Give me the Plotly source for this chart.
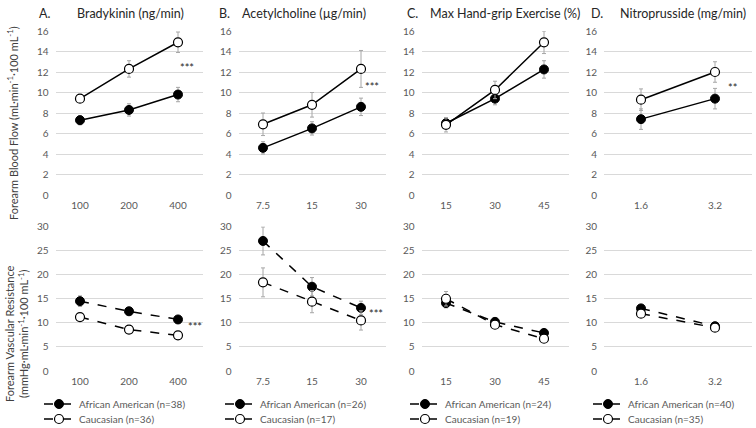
import plotly.graph_objects as go

W, H = 756, 428
FONT = "Lato"

# ---- data ----
cats_A = ["100", "200", "400"]
cats_B = ["7.5", "15", "30"]
cats_C = ["15", "30", "45"]
cats_D = ["1.6", "3.2"]

fbf_aa_A = [7.3, 8.3, 9.8];    fbf_aa_A_err = [0.45, 0.6, 0.7]
fbf_ca_A = [9.4, 12.3, 14.9];  fbf_ca_A_err = [0.3, 0.8, 1.0]
fbf_aa_B = [4.6, 6.5, 8.6];    fbf_aa_B_err = [0.6, 0.65, 0.85]
fbf_ca_B = [6.9, 8.8, 12.3];   fbf_ca_B_err = [1.1, 1.2, 1.8]
fbf_aa_C = [7.0, 9.4, 12.25];  fbf_aa_C_err = [0.5, 0.6, 0.85]
fbf_ca_C = [6.85, 10.25, 14.9]; fbf_ca_C_err = [0.7, 0.85, 1.1]
fbf_aa_D = [7.4, 9.4];         fbf_aa_D_err = [1.0, 1.0]
fbf_ca_D = [9.3, 12.0];        fbf_ca_D_err = [1.05, 1.0]

fvr_aa_A = [14.5, 12.4, 10.7]; fvr_aa_A_err = [1.1, 0.8, 0.6]
fvr_ca_A = [11.2, 8.6, 7.4];   fvr_ca_A_err = [0.6, 0.4, 0.4]
fvr_aa_B = [27.0, 17.5, 13.1]; fvr_aa_B_err = [2.9, 1.9, 1.4]
fvr_ca_B = [18.4, 14.4, 10.5]; fvr_ca_B_err = [3.0, 2.3, 2.0]
fvr_aa_C = [14.1, 10.2, 7.9];  fvr_aa_C_err = [1.0, 0.6, 0.6]
fvr_ca_C = [15.0, 9.6, 6.7];   fvr_ca_C_err = [1.5, 0.6, 0.5]
fvr_aa_D = [13.0, 9.3];        fvr_aa_D_err = [0.8, 0.8]
fvr_ca_D = [11.9, 9.0];        fvr_ca_D_err = [0.8, 0.8]

n_aa = [38, 26, 24, 40]
n_ca = [36, 17, 19, 35]

panel_letters = ["A.", "B.", "C.", "D."]
panel_titles = ["Bradykinin (ng/min)", "Acetylcholine (\u00b5g/min)",
                "Max Hand-grip Exercise (%)", "Nitroprusside (mg/min)"]

top_ticks = [0, 2, 4, 6, 8, 10, 12, 14, 16]
bot_ticks = [0, 5, 10, 15, 20, 25, 30]

# ---- layout geometry (pixels) ----
xdom_px = [(55.5, 202.5), (238.5, 385.5), (421.5, 568.5), (604, 752)]
top_px = (31, 195)
bot_px = (226.5, 371)

def px2x(p): return p / W
def px2y(p): return 1 - p / H

cats = [cats_A, cats_B, cats_C, cats_D]
top_data = [(fbf_aa_A, fbf_aa_A_err, fbf_ca_A, fbf_ca_A_err),
            (fbf_aa_B, fbf_aa_B_err, fbf_ca_B, fbf_ca_B_err),
            (fbf_aa_C, fbf_aa_C_err, fbf_ca_C, fbf_ca_C_err),
            (fbf_aa_D, fbf_aa_D_err, fbf_ca_D, fbf_ca_D_err)]
bot_data = [(fvr_aa_A, fvr_aa_A_err, fvr_ca_A, fvr_ca_A_err),
            (fvr_aa_B, fvr_aa_B_err, fvr_ca_B, fvr_ca_B_err),
            (fvr_aa_C, fvr_aa_C_err, fvr_ca_C, fvr_ca_C_err),
            (fvr_aa_D, fvr_aa_D_err, fvr_ca_D, fvr_ca_D_err)]

fig = go.Figure()
ERR_COL = "#a6a6a6"
TICK_COL = "#595959"
GRID_COL = "#d9d9d9"

def add_pair(i, row, data, dashed):
    k = i + 1 + 4 * row
    xa = "x" if k == 1 else f"x{k}"
    ya = "y" if k == 1 else f"y{k}"
    aa, aa_e, ca, ca_e = data
    dash = "dash" if dashed else "solid"
    lg1 = "legend" if i == 0 else f"legend{2*i+1}"
    lg2 = f"legend{2*i+2}"
    fig.add_trace(go.Scatter(
        x=cats[i], y=aa, xaxis=xa, yaxis=ya, mode="lines+markers",
        line=dict(color="black", width=1.5, dash=dash),
        marker=dict(symbol="circle", size=9, color="black", line=dict(color="black", width=1)),
        error_y=dict(type="data", array=aa_e, color=ERR_COL, thickness=1, width=2),
        name=f"African American (n={n_aa[i]})", showlegend=dashed,
        legend=lg1))
    fig.add_trace(go.Scatter(
        x=cats[i], y=ca, xaxis=xa, yaxis=ya, mode="lines+markers",
        line=dict(color="black", width=1.5, dash=dash),
        marker=dict(symbol="circle", size=9, color="white", line=dict(color="black", width=1.2)),
        error_y=dict(type="data", array=ca_e, color=ERR_COL, thickness=1, width=2),
        name=f"Caucasian (n={n_ca[i]})", showlegend=dashed,
        legend=lg2))

for i in range(4):
    add_pair(i, 0, top_data[i], False)
for i in range(4):
    add_pair(i, 1, bot_data[i], True)

layout = dict(width=W, height=H,
              margin=dict(l=0, r=0, t=0, b=0, autoexpand=False),
              paper_bgcolor="white", plot_bgcolor="white",
              font=dict(family=FONT, color=TICK_COL, size=10))

for row in range(2):
    for i in range(4):
        k = i + 1 + 4 * row
        xn = "xaxis" if k == 1 else f"xaxis{k}"
        yn = "yaxis" if k == 1 else f"yaxis{k}"
        x0, x1 = xdom_px[i]
        ypx = top_px if row == 0 else bot_px
        ticks = top_ticks if row == 0 else bot_ticks
        layout[xn] = dict(domain=[px2x(x0), px2x(x1)], type="category",
                          range=[-0.5, len(cats[i]) - 0.5], showgrid=False,
                          showline=False, zeroline=False, ticks="",
                          anchor="y" if k == 1 else f"y{k}",
                          ticklabelstandoff=3,
                          tickfont=dict(size=10, color=TICK_COL, family=FONT),
                          fixedrange=True)
        layout[yn] = dict(domain=[px2y(ypx[1]), px2y(ypx[0])],
                          range=[ticks[0], ticks[-1]], tickvals=ticks,
                          showgrid=True, gridcolor=GRID_COL, gridwidth=1,
                          zeroline=False, showline=False, ticks="",
                          anchor="x" if k == 1 else f"x{k}",
                          ticklabelstandoff=6,
                          tickfont=dict(size=10, color=TICK_COL, family=FONT),
                          fixedrange=True)

# legends (one entry each)
leg_text_x = [88, 269, 454, 637]
leg_y = [404, 419]
for i in range(4):
    for j in range(2):
        idx = 2 * i + j + 1
        name = "legend" if idx == 1 else f"legend{idx}"
        layout[name] = dict(x=px2x(leg_text_x[i] - 49), y=px2y(leg_y[j]),
                            xanchor="left", yanchor="middle",
                            bgcolor="rgba(0,0,0,0)", borderwidth=0,
                            itemwidth=30,
                            font=dict(family=FONT, size=10, color=TICK_COL))

fig.update_layout(**layout)

ann = []
letter_x = [44, 224, 412, 597]
title_x = [130.5, 304, 505, 683]
for i in range(4):
    ann.append(dict(text=panel_letters[i], x=px2x(letter_x[i]), y=px2y(13),
                    xref="paper", yref="paper", showarrow=False,
                    xanchor="center", yanchor="middle",
                    font=dict(family=FONT, size=12.5, color="#262626")))
    ann.append(dict(text=panel_titles[i], x=px2x(title_x[i]), y=px2y(13),
                    xref="paper", yref="paper", showarrow=False,
                    xanchor="center", yanchor="middle",
                    font=dict(family=FONT, size=12.5, color="#262626")))

# y axis titles
ann.append(dict(text="Forearm Blood Flow (mL\u00b7min<sup>-1</sup>\u00b7100 mL<sup>-1</sup>)",
                x=px2x(12), y=px2y(123), xref="paper", yref="paper",
                showarrow=False, textangle=-90, xanchor="center", yanchor="middle",
                font=dict(family=FONT, size=11, color="#404040")))
ann.append(dict(text="Forearm Vascular Resistance<br>(mmHg\u00b7mL\u00b7min<sup>-1</sup>\u00b7100 mL<sup>-1</sup>)",
                x=px2x(16), y=px2y(334), xref="paper", yref="paper",
                showarrow=False, textangle=-90, xanchor="center", yanchor="middle",
                font=dict(family=FONT, size=11, color="#404040")))

# significance stars
stars = [("x domain", "y", 0.895, 12.4, "***"),
         ("x2 domain", "y2", 0.908, 10.6, "***"),
         ("x4 domain", "y4", 0.865, 10.5, "**"),
         ("x5 domain", "y5", 0.949, 9.3, "***"),
         ("x6 domain", "y6", 0.935, 12.0, "***")]
for xr, yr, xv, yv, t in stars:
    ann.append(dict(text=t, x=xv, y=yv, xref=xr, yref=yr, showarrow=False,
                    xanchor="center", yanchor="middle",
                    font=dict(family=FONT, size=11, color="#262626")))

fig.update_layout(annotations=ann)
fig.write_html("out.html",
               config={"displayModeBar": False},
               post_script="document.body.style.margin='0';document.body.style.overflow='hidden';")
